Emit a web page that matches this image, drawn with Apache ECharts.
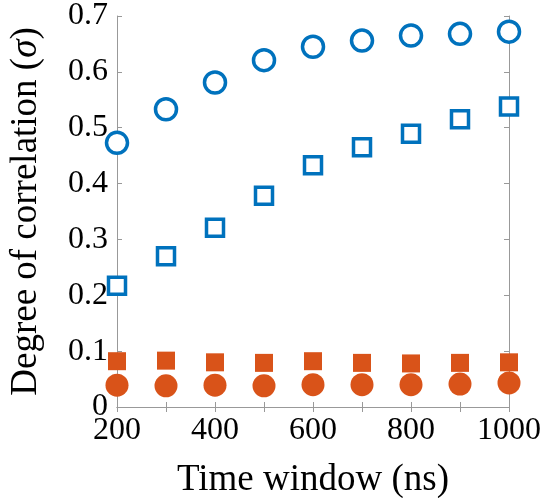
<!DOCTYPE html>
<html>
<head>
<meta charset="utf-8">
<script src="https://cdn.jsdelivr.net/npm/echarts@6/dist/echarts.min.js"></script>
<style>
  html, body { margin: 0; padding: 0; background: #fff; }
  #main { width: 543px; height: 498px; }
</style>
</head>
<body>
<div id="main"></div>
<script>
// data
const timeWindow = [200, 300, 400, 500, 600, 700, 800, 900, 1000]
const openCircle = [0.473, 0.533, 0.581, 0.621, 0.645, 0.656, 0.665, 0.668, 0.672]
const openSquare = [0.217, 0.270, 0.321, 0.378, 0.433, 0.465, 0.489, 0.515, 0.538]
const filledSquare = [0.082, 0.083, 0.080, 0.079, 0.082, 0.079, 0.078, 0.079, 0.080]
const filledCircle = [0.039, 0.038, 0.039, 0.038, 0.040, 0.040, 0.040, 0.041, 0.043]

const blue = "#0072BD"
const orange = "#D95319"
const font = "Liberation Serif"

const pairs = ys => timeWindow.map((x, i) => [x, ys[i]])

const boxLine = { show: true, lineStyle: { color: "#999", width: 1 } }
const inTick = { show: true, inside: true, length: 5, lineStyle: { color: "#999" } }

const myChart = echarts.init(document.getElementById("main"))
myChart.setOption({
  animation: false,
  grid: { left: 117, right: 34, top: 16, bottom: 91, outerBoundsMode: "none", containLabel: false },
  xAxis: [{
    type: "value", min: 200, max: 1000, interval: 100,
    name: "Time window (ns)", nameLocation: "middle", nameGap: 55,
    nameTextStyle: { fontFamily: font, fontSize: 37, color: "#000" },
    axisLine: boxLine, axisTick: inTick, splitLine: { show: false },
    axisLabel: {
      fontFamily: font, fontSize: 32, color: "#000", margin: 8,
      formatter: v => v % 200 === 0 ? String(v) : ""
    }
  }, {
    type: "value", position: "top", min: 200, max: 1000, interval: 100,
    axisLine: boxLine, axisTick: inTick, axisLabel: { show: false }, splitLine: { show: false }
  }],
  yAxis: [{
    type: "value", min: 0, max: 0.7, interval: 0.1,
    name: "Degree of correlation ({s|σ})", nameLocation: "middle", nameGap: 72,
    nameTextStyle: {
      fontFamily: font, fontSize: 37, color: "#000",
      rich: { s: { fontFamily: font, fontSize: 37, fontStyle: "italic", color: "#000" } }
    },
    axisLine: boxLine, axisTick: inTick, splitLine: { show: false },
    axisLabel: {
      fontFamily: font, fontSize: 32, color: "#000", margin: 9,
      formatter: v => v === 0 ? "0" : v.toFixed(1)
    }
  }, {
    type: "value", position: "right", min: 0, max: 0.7, interval: 0.1,
    axisLine: boxLine, axisTick: inTick, axisLabel: { show: false }, splitLine: { show: false }
  }],
  series: [
    {
      type: "scatter", data: pairs(openCircle), symbol: "circle", symbolSize: 21,
      itemStyle: { color: "#fff", borderColor: blue, borderWidth: 3.5, opacity: 1 }, z: 3
    },
    {
      type: "scatter", data: pairs(openSquare), symbol: "rect", symbolSize: 17,
      itemStyle: { color: "#fff", borderColor: blue, borderWidth: 3.5, opacity: 1 }, z: 3
    },
    {
      type: "scatter", data: pairs(filledSquare), symbol: "rect", symbolSize: 18,
      itemStyle: { color: orange, opacity: 1 }, z: 3
    },
    {
      type: "scatter", data: pairs(filledCircle), symbol: "circle", symbolSize: 23,
      itemStyle: { color: orange, opacity: 1 }, z: 3
    }
  ]
})
window.onresize = () => myChart.resize()
</script>
</body>
</html>
